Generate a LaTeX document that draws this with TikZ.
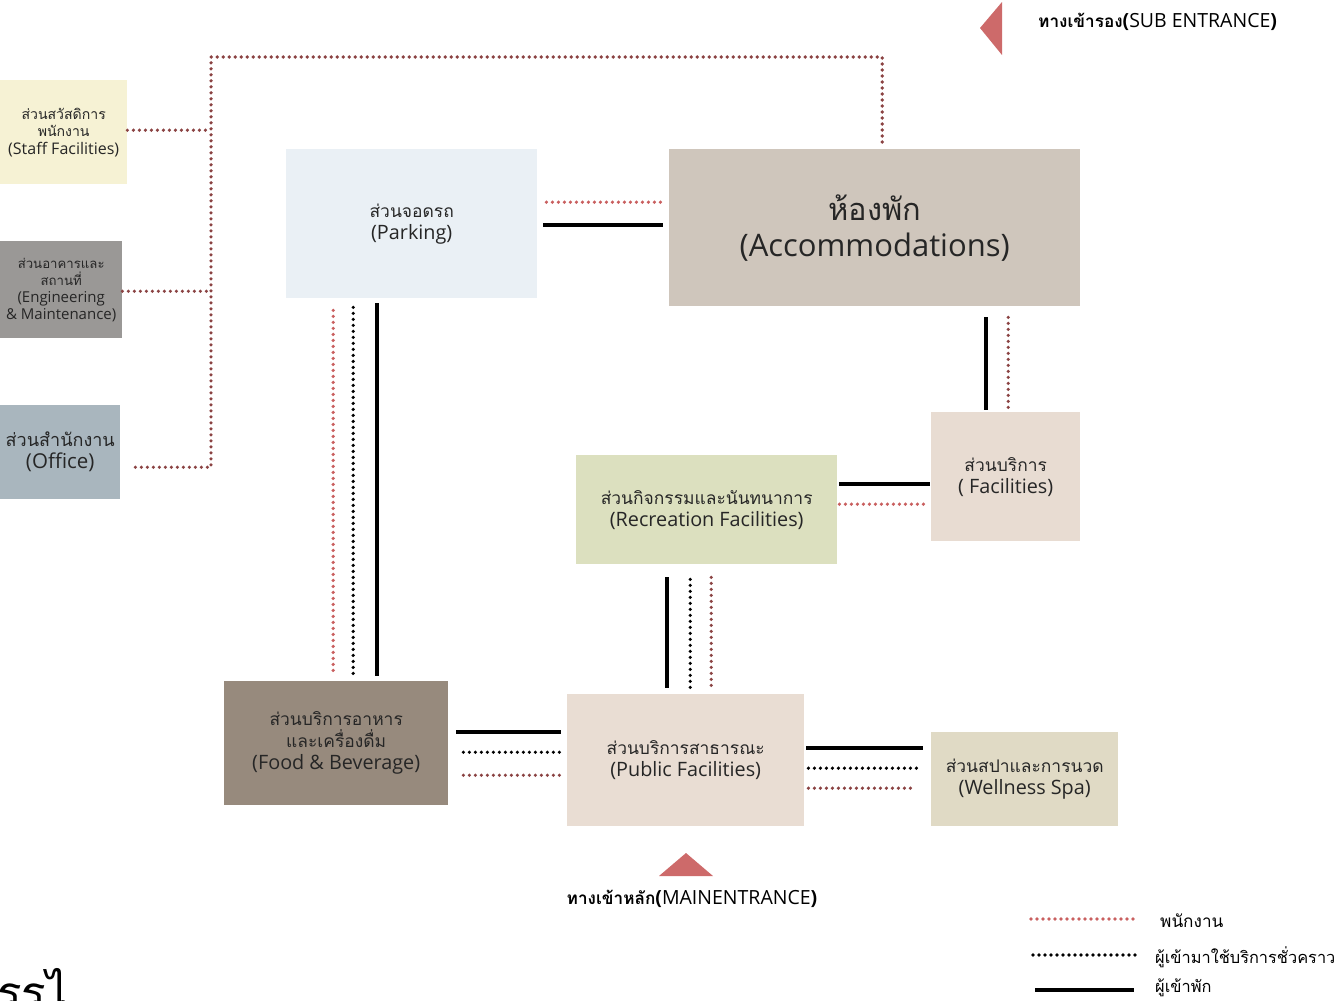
\documentclass[tikz,border=0pt]{standalone}
\usepackage{fontspec}
\setmainfont{Open Sans}
\newfontfamily\thai[Script=Thai, Scale=0.88]{Loma}
\usetikzlibrary{positioning,calc}
\definecolor{staffred}{HTML}{C95F5F}
\definecolor{staffdark}{HTML}{8B4343}
\definecolor{entryred}{HTML}{CD6A6A}
\definecolor{fillstaff}{HTML}{F6F2D4}
\definecolor{filleng}{HTML}{9A9896}
\definecolor{filloffice}{HTML}{A9B6BE}
\definecolor{fillpark}{HTML}{EAF0F5}
\definecolor{fillacc}{HTML}{CFC6BC}
\definecolor{fillfac}{HTML}{E8DCD2}
\definecolor{fillrec}{HTML}{DCE0BF}
\definecolor{fillfb}{HTML}{978A7D}
\definecolor{fillpub}{HTML}{E9DDD3}
\definecolor{fillspa}{HTML}{E0DAC5}

\begin{document}
\begin{tikzpicture}[
x=1pt, y=-1pt,
zone/.style={anchor=north west, inner sep=0pt, align=center, text=black!85, font=\fontsize{19.8}{22}\selectfont},
smalltxt/.style={font=\fontsize{16}{17.5}\selectfont},
guest/.style={line width=3.5pt},
visitor/.style={line width=3.6pt, dash pattern=on 0pt off 6pt, line cap=round},
staff/.style={visitor, staffred},
staffdk/.style={visitor, staffdark},
entry/.style={fill=entryred, draw=none}
]
\useasboundingbox (0,0) rectangle (1339,1001);
% zones
\node[zone, smalltxt, fill=fillstaff, minimum width=127pt, minimum height=104pt] (sf) at (0,80) {{\thai ส่วนสวัสดิการ}\\{\thai พนักงาน}\\(Staff Facilities)};
\node[zone, fill=filleng, minimum width=122pt, minimum height=97pt, font=\fontsize{15}{17}\selectfont] (eng) at (0,241) {{\thai ส่วนอาคารและ}\\{\thai สถานที่}\\(Engineering\\\& Maintenance)};
\node[zone, fill=filloffice, minimum width=120pt, minimum height=94pt, font=\fontsize{20.5}{22}\selectfont] (off) at (0,405) {{\thai ส่วนสำนักงาน}\\(Office)};
\node[zone, fill=fillpark, minimum width=251pt, minimum height=149pt] (park) at (286,149) {{\thai ส่วนจอดรถ}\\(Parking)};
\node[zone, fill=fillacc, minimum width=411pt, minimum height=157pt, font=\fontsize{31}{36}\selectfont] (acc) at (669,149) {{\thai\fontsize{35}{36}\selectfont ห้องพัก}\\(Accommodations)};
\node[zone, fill=fillfac, minimum width=149pt, minimum height=129pt] (fac) at (931,412) {{\thai ส่วนบริการ}\\( Facilities)};
\node[zone, fill=fillrec, minimum width=261pt, minimum height=109pt] (rec) at (576,455) {{\thai ส่วนกิจกรรมและนันทนาการ}\\(Recreation Facilities)};
\node[zone, fill=fillfb, minimum width=224pt, minimum height=124pt] (fb) at (224,681) {{\thai ส่วนบริการอาหาร}\\{\thai และเครื่องดื่ม}\\(Food \& Beverage)};
\node[zone, fill=fillpub, minimum width=237pt, minimum height=132pt] (pub) at (567,694) {{\thai ส่วนบริการสาธารณะ}\\(Public Facilities)};
\node[zone, fill=fillspa, minimum width=187pt, minimum height=94pt] (spa) at (931,732) {{\thai ส่วนสปาและการนวด}\\(Wellness Spa)};

% staff network on the left
\coordinate (top) at (211,57);
\draw[staffdk] ($(off.east)+(15,15)$) -| (top) -| ($(acc.north)+(7.5,-4)$);
\draw[staffdk] ($(sf.east)+(0,-2)$) -- ($(sf.east -| top)+(0,-2)$);
\draw[staffdk] ($(eng.east)+(0,1.5)$) -- ($(eng.east -| top)+(0,1.5)$);

% parking - accommodations
\draw[staff] ($(park.east)+(9,-21.5)$) -- ($(park.east -| acc.west)+(-7,-21.5)$);
\draw[guest] ($(park.east)+(6,1.5)$) -- ($(park.east -| acc.west)+(-6,1.5)$);

% parking - food & beverage
\draw[staff] ($(park.south -| fb.north)+(-3,12)$) -- ($(fb.north)+(-3,-9)$);
\draw[visitor] ($(park.south -| fb.north)+(17,9)$) -- ($(fb.north)+(17,-7)$);
\draw[guest] ($(park.south -| fb.north)+(41,5)$) -- ($(fb.north)+(41,-5)$);

% accommodations - facilities
\draw[guest] ($(acc.south -| fac.north)+(-19.5,11)$) -- ($(fac.north)+(-19.5,-2)$);
\draw[staffdk] ($(acc.south -| fac.north)+(2.5,11)$) -- ($(fac.north)+(2.5,0)$);

% recreation - facilities
\draw[guest] ($(rec.east |- fac.west)+(2,7.5)$) -- ($(fac.west)+(-1,7.5)$);
\draw[staff] ($(rec.east |- fac.west)+(2,27.5)$) -- ($(fac.west)+(-7,27.5)$);

% recreation - public
\draw[guest] ($(rec.south -| pub.north)+(-18.5,13)$) -- ($(pub.north)+(-18.5,-6)$);
\draw[visitor] ($(rec.south -| pub.north)+(4.5,15)$) -- ($(pub.north)+(4.5,-4)$);
\draw[staffdk] ($(rec.south -| pub.north)+(25.5,13)$) -- ($(pub.north)+(25.5,-6)$);

% food & beverage - public
\draw[guest] ($(fb.east)+(8,-11)$) -- ($(fb.east -| pub.west)+(-6,-11)$);
\draw[visitor] ($(fb.east)+(15,9)$) -- ($(fb.east -| pub.west)+(-6,9)$);
\draw[staffdk] ($(fb.east)+(15,32)$) -- ($(fb.east -| pub.west)+(-7,32)$);

% public - spa
\draw[guest] ($(pub.east)+(2,-12)$) -- ($(pub.east -| spa.west)+(-8,-12)$);
\draw[visitor] ($(pub.east)+(4,8)$) -- ($(pub.east -| spa.west)+(-12,8)$);
\draw[staffdk] ($(pub.east)+(4,28)$) -- ($(pub.east -| spa.west)+(-20,28)$);

% entrances
\fill[entry] (1002,2) -- (1002,55) -- (980,28) -- cycle;
\node[anchor=west, inner sep=0pt, font=\fontsize{19.5}{21}\selectfont] (subin) at (1038,22) {\textbf{\thai ทางเข้ารอง}\textbf{(}SUB ENTRANCE\textbf{)}};
\fill[entry] (686,853) -- (713,876) -- (659,876) -- cycle;
\node[inner sep=0pt, font=\fontsize{19.5}{21}\selectfont] (mainin) at (692,899) {\textbf{\thai ทางเข้าหลัก}\textbf{(}MAINENTRANCE\textbf{)}};

% legend
\node[anchor=west, inner sep=0pt, font=\thai\fontsize{19.5}{20}\selectfont] (lg1) at (1160,921) {พนักงาน};
\node[anchor=west, inner sep=0pt, font=\thai\fontsize{18.6}{20}\selectfont] (lg2) at (1155,957) {ผู้เข้ามาใช้บริการชั่วคราว};
\node[anchor=west, inner sep=0pt, font=\thai\fontsize{18.6}{20}\selectfont] (lg3) at (1155,988) {ผู้เข้าพัก};
\draw[staff] ($(lg1.west)+(-129,-2)$) -- ($(lg1.west)+(-25,-2)$);
\draw[visitor] ($(lg2.west)+(-122,-2)$) -- ($(lg2.west)+(-19,-2)$);
\draw[guest] ($(lg3.west)+(-120,2)$) -- ($(lg3.west)+(-21,2)$);

% cut-off caption
\node[anchor=north west, inner sep=0pt, font=\thai\fontsize{52}{52}\selectfont] (cap) at (-3,968) {รรไ};
\end{tikzpicture}
\end{document}
